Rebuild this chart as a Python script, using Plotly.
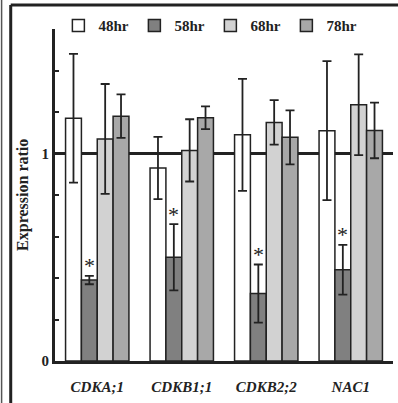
import plotly.graph_objects as go

genes = ["CDKA;1", "CDKB1;1", "CDKB2;2", "NAC1"]
series_names = ["48hr", "58hr", "68hr", "78hr"]
v48 = [1.17, 0.93, 1.09, 1.11]
e48 = [0.31, 0.15, 0.27, 0.335]
v58 = [0.39, 0.50, 0.325, 0.44]
e58 = [0.02, 0.16, 0.14, 0.12]
v68 = [1.07, 1.015, 1.15, 1.235]
e68 = [0.265, 0.15, 0.107, 0.243]
v78 = [1.18, 1.172, 1.078, 1.111]
e78 = [0.105, 0.055, 0.13, 0.134]
colors = ["#ffffff", "#808080", "#d2d2d2", "#a8a8a8"]
ytickvals = [0, 0.2, 0.4, 0.6, 0.8, 1.0, 1.2, 1.4, 1.6]
yticktext = ["0", "", "", "", "", "1", "", "", ""]

vals = [v48, v58, v68, v78]
errs = [e48, e58, e68, e78]

fig = go.Figure()
for name, v, e, c in zip(series_names, vals, errs, colors):
    fig.add_trace(go.Bar(
        x=genes, y=v, name=name,
        marker=dict(color=c, line=dict(color="#222222", width=1.5)),
        error_y=dict(type="data", array=e, visible=True, color="#222222",
                     thickness=1.8, width=4.5),
    ))

font_b = dict(family="Liberation Serif", size=15, color="#222222", weight="bold")

annotations = []
for i, (v, e) in enumerate(zip(v58, e58)):
    annotations.append(dict(x=i - 0.09375, y=v + e, xref="x", yref="y",
                            text="*", showarrow=False, yanchor="middle",
                            yshift=10, font=dict(family="Liberation Serif", size=22, color="#222222")))
annotations.append(dict(x=-0.095, y=0.5, xref="paper", yref="paper", text="Expression ratio",
                        textangle=-90, showarrow=False, xanchor="center", yanchor="middle",
                        font=dict(family="Liberation Serif", size=16, color="#222222", weight="bold")))

shapes = [
    dict(type="line", xref="paper", yref="y", x0=0, x1=1, y0=1, y1=1,
         line=dict(color="#222222", width=3), layer="below"),
    dict(type="line", xref="paper", yref="paper", x0=-0.131, x1=1.02, y0=1.072, y1=1.072,
         line=dict(color="#222222", width=3)),
    dict(type="line", xref="paper", yref="paper", x0=-0.131, x1=-0.131, y0=1.072, y1=-0.13,
         line=dict(color="#222222", width=3)),
    dict(type="line", xref="paper", yref="paper", x0=-0.158, x1=-0.158, y0=1.1, y1=-0.13,
         line=dict(color="#555555", width=1.5)),
]

fig.update_layout(
    width=398, height=403,
    margin=dict(l=55, r=5, t=29, b=42, autoexpand=False),
    paper_bgcolor="white", plot_bgcolor="white",
    barmode="group", bargap=0.25, bargroupgap=0,
    showlegend=True,
    legend=dict(orientation="h", x=0.01, y=1.01, xanchor="left", yanchor="middle",
                font=font_b, bgcolor="rgba(0,0,0,0)", entrywidth=31,
                entrywidthmode="pixels", itemwidth=30),
    xaxis=dict(showline=True, linecolor="#222222", linewidth=3, ticks="",
               range=[-0.5, 3.5], ticklabelstandoff=10,
               tickfont=dict(family="Liberation Serif", size=15, color="#222222",
                             weight="bold", style="italic")),
    yaxis=dict(range=[0, 1.6], showline=True, linecolor="#222222", linewidth=3,
               showgrid=False, zeroline=False, tickvals=ytickvals, ticktext=yticktext,
               ticks="inside", ticklen=4, tickwidth=2, tickcolor="#222222",
               tickfont=font_b),
    annotations=annotations, shapes=shapes,
)
fig.write_html("out.html", config={"displayModeBar": False},
               post_script="document.body.style.margin='0';document.body.style.padding='0';document.body.style.overflow='hidden';")
